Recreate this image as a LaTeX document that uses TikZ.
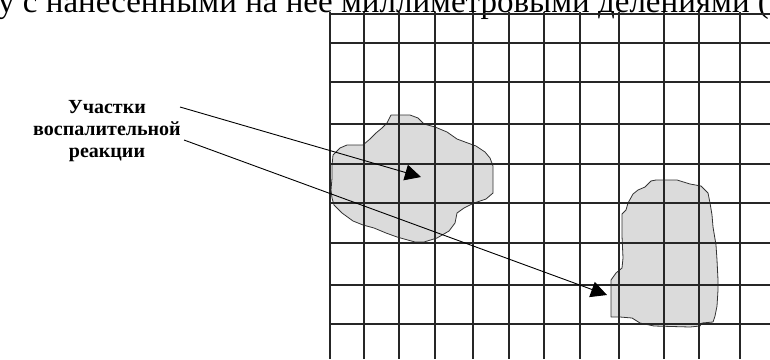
\documentclass[tikz,border=0pt]{standalone}
\usepackage{fontspec}
\setmainfont{Liberation Serif}
\usetikzlibrary{arrows.meta}
\begin{document}
\begin{tikzpicture}[x=1pt,y=-1pt,
  gridline/.style={line width=1.3pt, draw=black!85},
  blob/.style={fill=black!14, draw=black!80, line width=0.8pt, line join=round},
  pointer/.style={line width=0.9pt, draw=black, -{Triangle[length=16pt,width=16pt]}},
  lbl/.style={font=\fontsize{20}{22}\selectfont\bfseries, inner sep=0pt, anchor=base},
  toptext/.style={font=\fontsize{33}{36}\selectfont, inner sep=0pt, anchor=base west}]
\useasboundingbox (0,0) rectangle (770,359);
\begin{scope}
\clip (0,0) rectangle (770,359);
\node[toptext] (top) at (-2,12) {у с нанесенными на нее миллиметровыми делениями (};
% inflamed areas
\path[blob] (391,115) -- (410,115) -- (418,118) -- (424,124) -- (435,127) -- (447,132) -- (457,139) -- (465,142) -- (476,146) -- (485,152) -- (490,158) -- (493,166) -- (493,180) -- (493,193) -- (486,199) -- (474,203) -- (464,208) -- (457,213) -- (455,223) -- (449,231) -- (437,238) -- (424,242) -- (415,242) -- (397,237) -- (386,233) -- (374,228) -- (363,225) -- (353,221) -- (342,213) -- (334,205) -- (332,198) -- (331,190) -- (332,178) -- (332,166) -- (333,155) -- (340,148) -- (347,145) -- (363,145) -- (370,139) -- (376,133) -- (382,128) -- (387,123) -- (390,117) -- cycle;
\path[blob] (651,181) -- (656,180) -- (677,180) -- (690,184) -- (701,186) -- (708,193) -- (710,203) -- (712,215) -- (713,227) -- (716,245) -- (717,260) -- (718,280) -- (718,290) -- (717,306) -- (715,316) -- (713,322) -- (702,323) -- (700,326) -- (690,327) -- (654,326) -- (640,323) -- (632,318) -- (620,317) -- (611,317) -- (611,280) -- (616,273) -- (622,268) -- (623,258) -- (622,236) -- (622,214) -- (626,210) -- (628,203) -- (633,194) -- (638,190) -- (645,187) -- cycle;
% grid
\foreach \gx in {330,364,399,435,473,509,544,580,619,664,699,740}
  \draw[gridline] (\gx,12) -- (\gx,359);
\foreach \gy in {14,43,82,124,164,203,243,285,324}
  \draw[gridline] (330,\gy) -- (770,\gy);
% label
\node[lbl] (l1) at (107,113) {Участки};
\node[lbl] (l2) at (107,135) {воспалительной};
\node[lbl] (l3) at (107,157) {реакции};
\coordinate (s1) at (180,107);
\coordinate (e1) at (421,177);
\coordinate (s2) at (184,140);
\coordinate (e2) at (607,295);
\draw[pointer] (s1) -- (e1);
\draw[pointer] (s2) -- (e2);
\end{scope}
\end{tikzpicture}
\end{document}
